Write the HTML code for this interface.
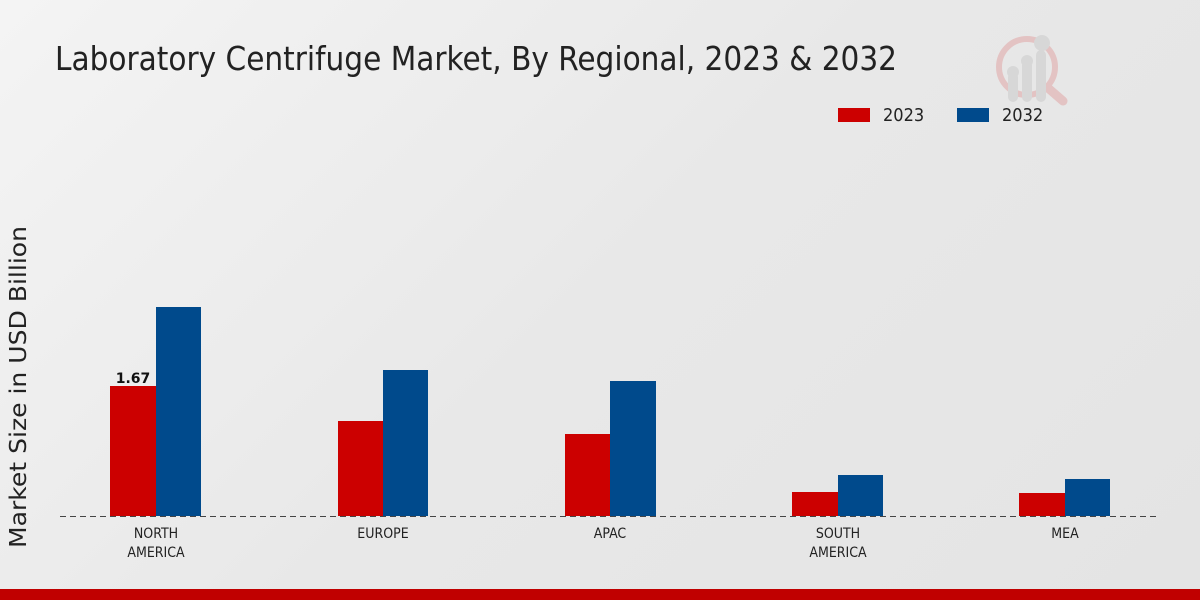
<!DOCTYPE html>
<html><head><meta charset="utf-8"><style>
html,body{margin:0;padding:0}
body{width:1200px;height:600px;overflow:hidden;background:linear-gradient(135deg,#f4f4f4 0%,#e8e8e8 50%,#e4e4e4 100%);font-family:"DejaVu Sans","Liberation Sans",sans-serif}
</style></head><body>
<svg width="1200" height="600" xmlns="http://www.w3.org/2000/svg" style="position:absolute;left:0;top:0">
<text x="55" y="70" font-family="DejaVu Sans Condensed,DejaVu Sans,sans-serif" font-stretch="condensed" font-size="33" fill="#222" textLength="842" lengthAdjust="spacingAndGlyphs">Laboratory Centrifuge Market, By Regional, 2023 &amp; 2032</text>
<g opacity="0.5">
<circle cx="1027" cy="67" r="28" fill="none" stroke="#e0a0a0" stroke-width="6"/>
<line x1="1048" y1="88" x2="1063" y2="101" stroke="#e0a0a0" stroke-width="9" stroke-linecap="round"/>
<rect x="1008" y="72" width="10" height="30" rx="5" fill="#c8c8c8"/>
<rect x="1022" y="60" width="10" height="42" rx="5" fill="#c8c8c8"/>
<rect x="1036" y="50" width="10" height="52" rx="5" fill="#c8c8c8"/>
<circle cx="1013" cy="72" r="6" fill="#c8c8c8"/><circle cx="1027" cy="61" r="6" fill="#c8c8c8"/><circle cx="1042" cy="43" r="8" fill="#c8c8c8"/>
</g>
<rect x="838" y="108" width="32" height="14" fill="#cc0000"/>
<text x="883" y="121" font-size="18" fill="#222" font-family="DejaVu Sans Condensed,DejaVu Sans,sans-serif" font-stretch="condensed">2023</text>
<rect x="957" y="108" width="32" height="14" fill="#004a8c"/>
<text x="1002" y="121" font-size="18" fill="#222" font-family="DejaVu Sans Condensed,DejaVu Sans,sans-serif" font-stretch="condensed">2032</text>
<text transform="translate(26,387) rotate(-90)" text-anchor="middle" font-size="23" fill="#222" textLength="322" lengthAdjust="spacingAndGlyphs">Market Size in USD Billion</text>
<g fill="#cc0000">
<rect x="110" y="386" width="46" height="130"/>
<rect x="338" y="421" width="45" height="95"/>
<rect x="565" y="434" width="45" height="82"/>
<rect x="792" y="492" width="46" height="24"/>
<rect x="1019" y="493" width="46" height="23"/>
</g>
<g fill="#004a8c">
<rect x="156" y="307" width="45" height="209"/>
<rect x="383" y="370" width="45" height="146"/>
<rect x="610" y="381" width="46" height="135"/>
<rect x="838" y="475" width="45" height="41"/>
<rect x="1065" y="479" width="45" height="37"/>
</g>
<line x1="60" y1="516.5" x2="1160" y2="516.5" stroke="#444" stroke-width="1" stroke-dasharray="6,4"/>
<text x="133" y="383" text-anchor="middle" font-size="14" font-weight="bold" fill="#111">1.67</text>
<g font-size="14" fill="#222" text-anchor="middle" font-family="DejaVu Sans Condensed,DejaVu Sans,sans-serif" font-stretch="condensed">
<text x="156" y="538">NORTH</text><text x="156" y="557">AMERICA</text>
<text x="383" y="538">EUROPE</text>
<text x="610" y="538">APAC</text>
<text x="838" y="538">SOUTH</text><text x="838" y="557">AMERICA</text>
<text x="1065" y="538">MEA</text>
</g>
<rect x="0" y="589" width="1200" height="11" fill="#c00000"/>
</svg>
</body></html>
